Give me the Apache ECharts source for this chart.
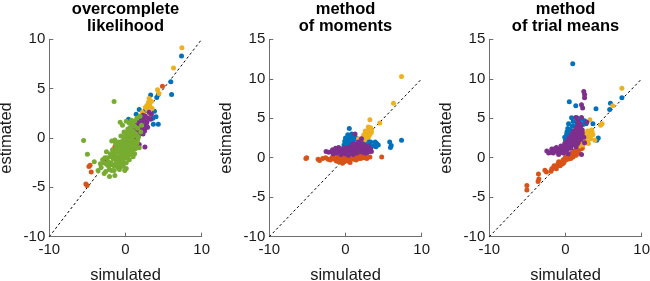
<!DOCTYPE html>
<html>
<head>
<meta charset="utf-8">
<script src="https://cdn.jsdelivr.net/npm/echarts@6/dist/echarts.min.js"></script>
<style>
  html, body { margin: 0; padding: 0; background: #fff; }
  #graph1 { width: 650px; height: 281px; }
</style>
</head>
<body>
<div id="graph1"></div>
<script>
// panel titles and axis ticks
var titles = ['overcomplete\nlikelihood', 'method\nof moments', 'method\nof trial means'];
var xTicks = [-10, 0, 10];
var yTicks1 = [-10, -5, 0, 5, 10];
var yTicks23 = [-10, -5, 0, 5, 10, 15];
var diagLine = [[-10, -10], [10, 10]];

// overcomplete likelihood  [simulated, estimated]
var p1Blue = [[7.35,8.3],[5.95,5.7],[6.05,4.4],[4.1,4.1],[4.3,4.4],[3.3,4.35],[1.8,2.9],[3.8,2.7],[3.65,1.4],[4.3,1.4],[4.0,2.15],
  [0.4,1.9],[0.6,1.0],[1.8,0.8],[2.8,3.0],[2.2,1.8],[1.4,2.4],[3.6,2.0],[2.5,2.7]];
var p1Orange = [[4.85,5.25],[-5.2,-4.65],[-5.05,-4.8],[-4.8,-2.9],[-4.65,-2.75],[-4.5,-3.45],[-2.8,-2.2],[-1.4,-0.9],[-1.3,-1.1],[0.7,0.85],[0.9,1.0]];
var p1Yellow = [[7.4,9.15],[6.3,7.1],[4.4,4.5],[3.4,3.7],[3.2,3.3],[2.9,2.8],[2.4,2.4],[1.9,2.2],[1.5,1.9],[3.2,2.4],[2.6,3.1],[2.2,2.6],
  [3.0,3.6],[2.7,2.0],[1.7,1.5],[3.1,4.0],[2.8,3.3],[3.5,3.0],[2.3,1.9],[4.2,4.9]];
var p1Purple = [[2.55,-0.9],[1.8,-0.65],[-2.6,-2.1],[-1.15,-2.05],[1.0,0.5],[1.3,1.0],[1.5,0.8],[1.8,1.3],[2.0,1.0],[2.2,1.5],[2.4,1.8],
  [2.6,2.2],[2.8,1.6],[2.5,0.7],[1.7,0.2],[1.2,0.0],[3.0,2.0],[2.0,2.0],[3.1,2.6],[0.8,-0.3],[1.6,1.6],[2.9,1.1],[3.3,1.9],[0.2,0.3],
  [1.9,1.5],[2.3,0.4],[1.4,1.3],[2.1,0.7],[2.7,1.3],[2.3,2.3],[1.1,0.8],[1.9,0.5],[3.4,2.4],[2.6,1.0],[0.6,0.2],[-0.4,-1.0],[-1.6,-1.9]];
var p1Green = [[-1.5,3.7],[-5.5,-0.25],[-5.0,-1.65],[-4.1,-2.4],[-1.4,-3.8],[0.1,-3.1],[-3.3,-2.6],[-2.1,-3.9],[-0.8,-3.2],
  [-0.7,1.6],[-0.4,1.3],[0.1,1.7],[0.5,1.5],[0.8,1.8],[1.2,1.7],[1.5,2.0],[1.9,2.2],
  [-3.2,-3.0],[-2.9,-2.5],[-2.6,-3.4],[-2.4,-2.0],[-2.2,-2.9],[-2.0,-1.6],[-1.9,-2.5],[-1.8,-3.3],[-1.7,-1.2],[-1.6,-2.1],
  [-1.5,-2.8],[-1.4,-1.6],[-1.3,-0.6],[-1.2,-2.4],[-1.1,-1.1],[-1.0,-3.0],[-1.0,-1.9],[-0.9,-0.4],[-0.8,-2.6],[-0.8,-1.4],
  [-0.7,-0.8],[-0.6,-2.0],[-0.6,0.2],[-0.5,-1.1],[-0.5,-2.9],[-0.4,-0.3],[-0.3,-1.7],[-0.3,-2.4],[-0.2,0.6],[-0.2,-0.9],
  [-0.1,-2.0],[0.0,-0.4],[0.0,-1.4],[0.1,0.4],[0.1,-2.5],[0.2,-0.9],[0.2,-1.8],[0.3,0.9],[0.3,-0.2],[0.4,-1.3],[0.5,0.3],
  [0.5,-2.2],[0.6,-0.6],[0.7,1.1],[0.7,-1.6],[0.8,0.0],[0.9,-0.9],[1.0,0.7],[1.0,-1.9],[1.1,-0.3],[1.2,1.2],[1.3,-1.1],
  [1.4,0.3],[1.5,-0.5],[1.6,1.0],[1.7,0.1],[1.8,-1.0],[2.0,0.6],[2.1,1.3],[-2.5,-1.4],[-3.6,-3.3],[-1.8,-0.3],[-0.1,-3.3],
  [-2.7,-2.0],[-2.3,-2.4],[-2.1,-3.2],[-1.9,-1.9],[-1.7,-2.7],[-1.6,-1.5],[-1.3,-2.0],[-1.2,-1.0],[-1.1,-2.7],[-1.0,-1.4],
  [-0.9,-2.2],[-0.9,-0.9],[-0.7,-1.7],[-0.7,-2.4],[-0.6,-0.5],[-0.5,-1.5],[-0.4,-2.2],[-0.4,-0.7],[-0.3,-1.2],[-0.2,-1.9],
  [-0.2,0.1],[-0.1,-0.6],[-0.1,-1.1],[0.0,-1.8],[0.0,0.2],[0.1,-0.8],[0.2,-1.3],[0.2,0.0],[0.3,-2.0],[0.3,-0.6],[0.4,-1.0],
  [0.4,0.6],[0.5,-1.7],[0.5,-0.3],[0.6,-1.2],[0.6,0.8],[0.7,-0.4],[0.8,-1.3],[0.8,0.4],[0.9,-0.2],[1.0,-1.2],[1.0,0.2],
  [1.1,-0.7],[1.2,0.5],[1.3,-0.4],[1.4,-0.9],[1.5,0.2],[1.6,-0.2],[1.2,-1.6],[-1.4,-0.2],[-2.8,-3.6],[-3.0,-2.2],[0.9,1.4],
  [-0.3,-2.8],[-1.5,-3.3],[-2.4,-2.7]];

// method of moments
var p2Blue = [[0.5,3.7],[7.35,2.2],[5.8,2.0],[6.0,1.55],[5.9,1.3],[4.1,1.8],[4.3,1.6],[3.9,2.0],[3.6,1.5],[2.6,1.9],[2.9,2.2],
  [0.0,2.5],[0.2,2.0],[0.3,1.5],[0.5,2.6],[0.7,1.8],[0.9,2.3],[0.1,1.2],[0.6,1.0],[1.1,1.6],[1.3,2.6],[-0.2,1.6],[0.8,3.0],
  [1.5,2.2],[3.1,1.6],[0.3,2.9],[0.4,2.2],[0.9,1.5],[1.2,2.0],[0.1,1.8],[3.3,2.0],[2.8,1.5],[4.0,1.4],[0.7,2.6],[-0.1,2.1]];
var p2Orange = [[-5.2,-0.1],[-5.1,0.0],[-3.6,-0.2],[-3.4,-0.35],[-3.0,-0.1],[-2.6,0.0],[-2.3,-0.2],[-1.8,0.0],[-1.5,-0.15],[-1.2,-0.4],
  [-1.0,0.1],[-0.8,-0.3],[-0.6,0.2],[-0.4,-0.2],[-0.2,-0.5],[0.0,0.3],[0.1,-0.1],[0.3,-0.4],[0.5,0.2],[0.7,-0.1],[0.9,0.3],
  [1.1,-0.2],[1.3,0.4],[1.5,0.0],[1.8,0.3],[2.0,-0.1],[2.3,0.4],[2.6,0.2],[3.2,0.1],[4.75,0.1],[-0.4,-0.7],[0.6,-0.6],
  [1.9,0.6],[-1.6,0.3],[2.8,-0.1],[-1.1,-0.1],[-0.7,0.0],[-0.3,0.1],[0.2,0.1],[0.4,-0.2],[0.8,0.1],[1.0,0.5],[1.2,0.1],
  [1.4,-0.3],[1.6,0.4],[2.1,0.2],[2.4,0.0],[-0.9,-0.5],[-0.1,-0.3],[1.7,-0.1],[-2.0,-0.3],[0.6,0.5]];
var p2Yellow = [[7.35,10.3],[6.3,6.9],[4.5,4.4],[3.2,4.8],[3.0,3.9],[3.4,3.5],[2.8,3.0],[2.3,2.6],[1.9,2.2],[1.5,1.8],[3.1,2.8],
  [2.5,2.2],[1.3,1.4],[3.2,3.0],[2.7,2.5],[2.0,1.6],[1.0,1.0],[2.6,3.4],[1.7,2.4],[0.6,0.4],[2.9,3.4],[3.3,3.8],[2.4,2.9],
  [2.1,2.0],[1.8,1.7],[3.0,2.6],[2.6,2.7],[3.4,3.2],[1.2,1.2]];
var p2Purple = [[-2.55,0.8],[-2.2,0.7],[-1.85,0.75],[-1.6,0.5],[-1.4,0.9],[-1.2,0.6],[-1.0,1.0],[-0.8,0.7],[-0.6,0.4],[-0.5,1.1],
  [-0.3,0.8],[-0.1,1.2],[0.0,0.5],[0.2,0.9],[0.3,1.3],[0.5,0.7],[0.6,1.1],[0.8,1.5],[0.9,0.9],[1.0,0.4],[1.1,1.3],[1.3,1.7],
  [1.4,1.0],[1.5,0.6],[1.6,1.4],[1.8,1.1],[1.9,1.8],[2.0,0.8],[2.2,1.3],[2.4,1.0],[2.5,1.6],[2.7,0.9],[2.9,1.2],[3.1,0.8],
  [3.3,1.1],[1.25,3.0],[2.1,2.4],[1.7,2.0],[0.4,0.3],[-0.9,1.3],[1.2,0.9],[2.6,0.6],[-1.7,1.0],[-1.3,1.2],[-1.1,0.8],
  [-0.7,0.9],[-0.4,0.6],[-0.2,1.0],[0.1,0.7],[0.4,1.0],[0.7,0.6],[0.9,1.2],[1.2,0.6],[1.4,1.5],[1.7,0.8],[2.0,1.4],
  [2.3,0.7],[2.6,1.2],[2.8,0.6],[3.0,1.4],[3.4,0.8],[0.3,0.5],[-0.6,0.8],[1.0,1.7],[2.2,1.8]];

// method of trial means
var p3Blue = [[0.95,11.9],[0.5,7.1],[1.35,6.6],[4.0,6.2],[5.9,6.9],[5.8,6.1],[7.4,7.6],[3.6,4.3],[0.8,5.05],[1.5,5.05],[2.1,4.9],
  [2.3,4.2],[2.7,4.3],[4.3,2.5],[4.1,2.2],[0.15,3.0],[0.3,2.5],[0.6,3.5],[0.9,4.0],[0.4,4.3],[0.8,2.8],[1.2,3.3],[1.5,4.5],
  [0.2,2.0],[0.7,2.2],[1.7,3.8],[1.1,2.4],[-0.1,2.6],[0.3,3.7],[0.6,2.9],[0.9,3.3],[1.3,4.0],[0.0,2.2],[0.5,1.8],[1.8,4.6],
  [1.0,4.6],[2.5,4.7],[0.2,3.3]];
var p3Orange = [[-5.07,-3.5],[-5.07,-4.1],[-3.55,-2.05],[-3.5,-2.7],[-3.6,-3.0],[-2.7,-1.6],[-2.5,-1.8],[-1.8,-1.4],[-1.4,-1.2],
  [-1.1,-1.0],[-0.75,-0.7],[-0.5,-0.5],[-0.3,-0.25],[-0.05,0.0],[-1.2,-1.4],[-0.7,-1.0],[-0.2,-0.6],[0.3,-0.2],[0.6,0.2],
  [0.9,0.4],[1.2,0.7],[-1.5,-1.0],[0.1,0.3],[0.5,-0.1],[1.0,0.1],[-0.9,-0.5],[1.5,0.5],[-1.9,-1.7],[1.8,1.3],[2.1,1.6],
  [2.3,1.8],[1.6,1.0],[2.0,1.1],[-1.6,-1.3],[-1.0,-0.8],[-0.4,-0.8],[0.0,-0.3],[0.2,0.0],[0.4,0.3],[0.7,-0.1],[0.8,0.6],
  [1.1,0.4],[1.3,0.9],[1.4,0.3],[1.7,0.7],[1.9,1.5],[2.2,1.2]];
var p3Yellow = [[7.4,8.8],[6.2,6.6],[4.8,4.3],[4.6,4.1],[3.2,4.8],[2.1,2.2],[2.75,2.6],[3.2,3.0],[3.4,3.5],[3.0,1.8],[3.85,2.2],
  [2.5,3.1],[2.9,2.0],[3.6,2.9],[2.3,1.6],[3.3,2.4],[1.8,1.5],[2.6,2.3],[2.9,3.4],[3.5,3.3],[2.4,2.7],[3.1,2.7]];
var p3Purple = [[2.4,8.4],[2.5,8.0],[2.5,7.6],[2.1,6.7],[2.25,6.3],[1.35,5.1],[2.1,5.1],[2.8,4.5],[2.4,2.6],[2.1,0.4],[2.5,1.9],
  [-2.45,0.85],[-2.2,0.6],[-1.8,1.1],[-1.6,0.6],[-1.4,0.9],[-1.2,1.3],[-1.0,0.7],[-0.8,1.1],[-0.6,1.5],[-0.5,0.9],[-0.3,1.3],
  [-0.1,1.8],[0.0,1.0],[0.1,1.5],[0.2,2.1],[0.3,1.2],[0.4,1.8],[0.5,2.5],[0.6,1.5],[0.7,2.2],[0.8,3.0],[0.9,1.9],[1.0,2.6],
  [1.1,3.4],[1.2,2.2],[1.3,3.0],[1.4,3.8],[1.5,2.5],[1.6,3.3],[1.7,4.2],[1.8,2.8],[1.9,3.6],[2.0,2.3],[0.35,0.5],[1.4,1.4],
  [-0.9,0.4],[1.6,1.8],[2.2,3.1],[-1.9,0.7],[-1.5,1.1],[-1.1,1.0],[-0.7,0.8],[-0.4,1.1],[-0.2,0.8],[0.0,1.4],[0.2,1.0],
  [0.3,1.6],[0.5,1.3],[0.6,2.0],[0.8,1.6],[0.9,2.4],[1.0,1.8],[1.1,2.8],[1.2,1.6],[1.3,2.5],[1.4,3.2],[1.5,2.0],[1.6,2.8],
  [1.7,3.6],[1.8,2.2],[1.9,3.0],[2.0,4.0],[2.1,2.7],[2.2,3.5],[1.6,4.6],[1.9,4.3],[-0.3,0.6],[0.7,1.2]];

var colors = {blue:'#0072BD', orange:'#D95319', yellow:'#EDB120', purple:'#7E2F8E', green:'#77AC30'};

var panels = [
    {left: 49.3, yTicks: yTicks1, sets: [[p1Blue,'blue'],[p1Orange,'orange'],[p1Yellow,'yellow'],[p1Purple,'purple'],[p1Green,'green']]},
    {left: 269.3, yTicks: yTicks23, sets: [[p2Blue,'blue'],[p2Orange,'orange'],[p2Yellow,'yellow'],[p2Purple,'purple']]},
    {left: 489.3, yTicks: yTicks23, sets: [[p3Blue,'blue'],[p3Orange,'orange'],[p3Yellow,'yellow'],[p3Purple,'purple']]}
];

var textColor = '#1a1a1a';
var axisColor = '#6e6e6e';
var grids = [], xAxes = [], yAxes = [], series = [], titleList = [];

for (var i = 0; i < panels.length; i++) {
    var p = panels[i];
    var w = 152.4;
    // outerBoundsMode none: keep the plot box where it is, names may sit near the edge
    grids.push({left: p.left, top: 39.3, width: w, height: 197.4, containLabel: false, outerBoundsMode: 'none'});
    titleList.push({
        text: titles[i], left: p.left + w / 2, top: 0.5, textAlign: 'center', padding: 0,
        textStyle: {fontFamily: 'Liberation Sans', fontSize: 16.5, fontWeight: 'bold', color: '#000', lineHeight: 17}
    });
    xAxes.push({
        gridIndex: i, type: 'value', min: xTicks[0], max: xTicks[xTicks.length - 1], interval: 10,
        name: 'simulated', nameLocation: 'middle', nameGap: 30,
        nameTextStyle: {fontFamily: 'Liberation Sans', fontSize: 16.5, color: textColor},
        axisLine: {onZero: false, lineStyle: {color: axisColor, width: 1}},
        axisTick: {inside: true, length: 4, lineStyle: {color: axisColor}},
        axisLabel: {margin: 6, fontFamily: 'Liberation Sans', fontSize: 15, color: textColor},
        splitLine: {show: false}
    });
    yAxes.push({
        gridIndex: i, type: 'value', min: p.yTicks[0], max: p.yTicks[p.yTicks.length - 1], interval: 5,
        name: 'estimated', nameLocation: 'middle', nameGap: 34,
        nameTextStyle: {fontFamily: 'Liberation Sans', fontSize: 16.5, color: textColor},
        axisLine: {onZero: false, lineStyle: {color: axisColor, width: 1}},
        axisTick: {inside: true, length: 4, lineStyle: {color: axisColor}},
        axisLabel: {margin: 4, fontFamily: 'Liberation Sans', fontSize: 15, color: textColor},
        splitLine: {show: false}
    });
    series.push({
        type: 'line', xAxisIndex: i, yAxisIndex: i, data: diagLine, symbol: 'none', silent: true,
        lineStyle: {color: '#000', width: 1, type: [2.5, 2.5]}, z: 1
    });
    for (var k = 0; k < p.sets.length; k++) {
        series.push({
            type: 'scatter', xAxisIndex: i, yAxisIndex: i, data: p.sets[k][0],
            symbol: 'circle', symbolSize: 5,
            itemStyle: {color: colors[p.sets[k][1]], opacity: 1},
            z: 2 + k
        });
    }
}

var myChart = echarts.init(document.getElementById('graph1'), null, {renderer: 'canvas'});
var option = {
    animation: false,
    backgroundColor: '#fff',
    title: titleList,
    grid: grids,
    xAxis: xAxes,
    yAxis: yAxes,
    series: series
};
myChart.setOption(option, true);
</script>
</body>
</html>
